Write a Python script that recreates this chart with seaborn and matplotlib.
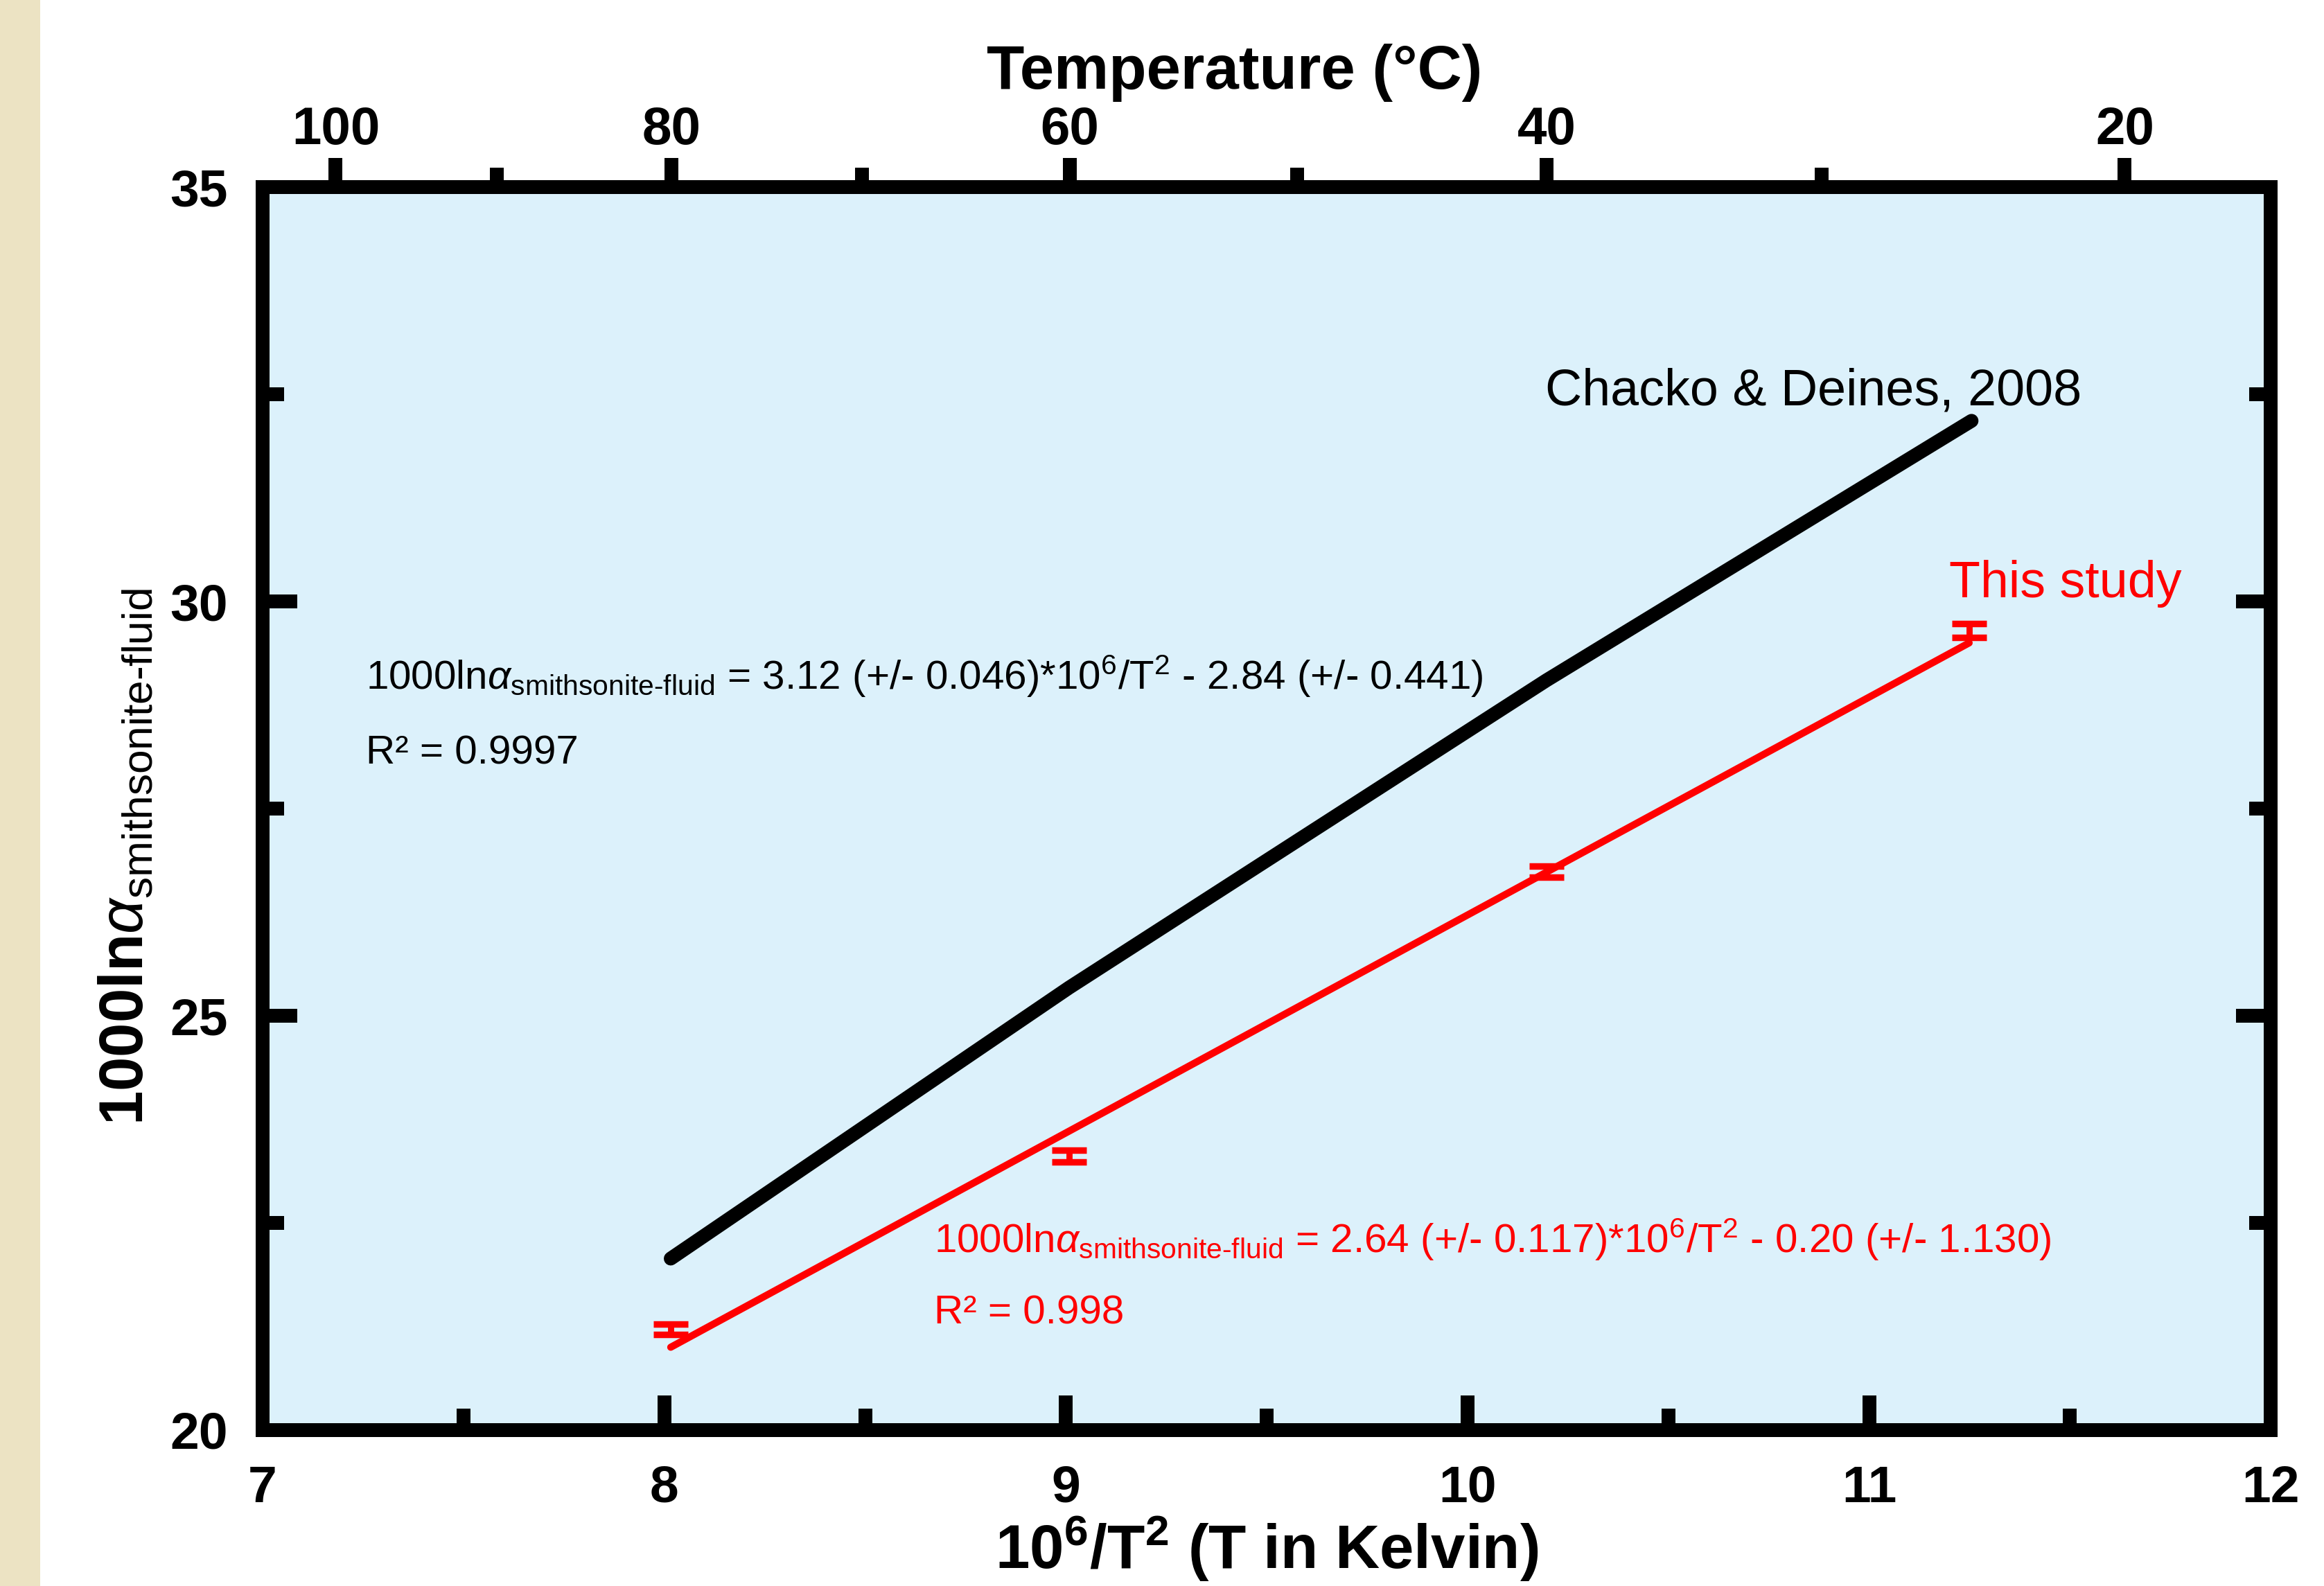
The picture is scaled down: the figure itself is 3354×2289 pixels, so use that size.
import numpy as np
import matplotlib
matplotlib.use("Agg")
import matplotlib.pyplot as plt
import seaborn as sns
from matplotlib.ticker import FixedLocator
from matplotlib.patches import Rectangle

# ---------------- data ----------------
x_study = [8.016, 9.008, 10.197, 11.249]
y_study = [21.22, 23.31, 26.74, 29.65]
err_study = [0.063, 0.070, 0.070, 0.084]

x_fit = [8.016, 11.249]
y_fit = [21.00, 29.50]

x_chacko = [8.016, 9.008, 10.197, 11.255]
y_chacko = [22.07, 25.34, 29.05, 32.18]

x_major = [7, 8, 9, 10, 11, 12]
x_minor = [7.5, 8.5, 9.5, 10.5, 11.5]
y_major = [20, 25, 30, 35]
y_minor = [22.5, 27.5, 32.5]
temp_major = [100, 80, 60, 40, 20]
temp_minor = [90, 70, 50, 30]

label_chacko = "Chacko & Deines, 2008"
label_study = "This study"
eq_chacko = r"1000ln$\alpha_{\text{smithsonite-fluid}}$ = 3.12 (+/- 0.046)*10$^{6}$/T$^{2}$ - 2.84 (+/- 0.441)"
r2_chacko = "R² = 0.9997"
eq_study = r"1000ln$\alpha_{\text{smithsonite-fluid}}$ = 2.64 (+/- 0.117)*10$^{6}$/T$^{2}$ - 0.20 (+/- 1.130)"
r2_study = "R² = 0.998"

# ---------------- style ----------------
sns.set_theme(style="ticks")
plt.rcParams["font.family"] = ["Liberation Sans", "DejaVu Sans"]
plt.rcParams["mathtext.fontset"] = "custom"
plt.rcParams["mathtext.rm"] = "Liberation Sans"
plt.rcParams["mathtext.it"] = "Liberation Sans:italic"
plt.rcParams["mathtext.bf"] = "Liberation Sans:bold"
plt.rcParams["text.color"] = "black"
plt.rcParams["axes.labelcolor"] = "black"
plt.rcParams["xtick.color"] = "black"
plt.rcParams["ytick.color"] = "black"
plt.rcParams["xtick.labelcolor"] = "black"
plt.rcParams["ytick.labelcolor"] = "black"

BG = "#DCF1FB"
BEIGE = "#ECE3C3"
LW = 7.2

fig = plt.figure(figsize=(16.775, 11.445), dpi=200)
fig.patch.set_facecolor("white")
fig.patches.append(Rectangle((0, 0), 58 / 3355, 1, transform=fig.transFigure,
                             facecolor=BEIGE, edgecolor="none", zorder=0))
ax = fig.add_axes([0.1130, 0.0983, 0.8638, 0.7837])
ax.set_facecolor(BG)

# lines
sns.lineplot(x=x_chacko, y=y_chacko, ax=ax, color="black", linewidth=7.2,
             solid_capstyle="round", solid_joinstyle="round", zorder=3)
sns.lineplot(x=x_fit, y=y_fit, ax=ax, color="#FF0000", linewidth=3.7,
             solid_capstyle="round", zorder=4)
eb = ax.errorbar(x_study, y_study, yerr=err_study, fmt="none", ecolor="#FF0000",
                 elinewidth=3.2, capsize=9, capthick=3.4, zorder=5)

ax.set_xlim(7, 12)
ax.set_ylim(20, 35)

# ticks
ax.xaxis.set_major_locator(FixedLocator(x_major))
ax.xaxis.set_minor_locator(FixedLocator(x_minor))
ax.yaxis.set_major_locator(FixedLocator(y_major))
ax.yaxis.set_minor_locator(FixedLocator(y_minor))
ax.set_xticklabels([str(v) for v in x_major])
ax.set_yticklabels([str(v) for v in y_major])
ax.tick_params(axis="both", which="major", direction="in", length=18, width=LW,
               labelsize=27, pad=18, bottom=True, left=True, right=True, top=False,
               color="black", labelcolor="black")
ax.tick_params(axis="both", which="minor", direction="in", length=11, width=LW,
               bottom=True, left=True, right=True, top=False, color="black")
for lab in ax.get_xticklabels() + ax.get_yticklabels():
    lab.set_fontweight("bold")

for s in ax.spines.values():
    s.set_linewidth(LW)
    s.set_color("black")
    s.set_visible(True)
    s.set_zorder(10)

# top temperature axis
def x2t(x):
    x = np.asarray(x, dtype=float)
    with np.errstate(divide="ignore", invalid="ignore"):
        return np.sqrt(1e6 / np.where(x > 0, x, np.nan)) - 273.15

def t2x(t):
    t = np.asarray(t, dtype=float)
    with np.errstate(divide="ignore", invalid="ignore"):
        return 1e6 / (t + 273.15) ** 2

secax = ax.secondary_xaxis("top", functions=(x2t, t2x))
secax.xaxis.set_major_locator(FixedLocator(temp_major))
secax.xaxis.set_minor_locator(FixedLocator(temp_minor))
secax.set_xticklabels([str(v) for v in temp_major])
secax.tick_params(axis="x", which="major", direction="out", length=15, width=LW,
                  labelsize=27.5, pad=1.5, color="black", labelcolor="black")
secax.tick_params(axis="x", which="minor", direction="out", length=10, width=LW,
                  color="black")
for lab in secax.get_xticklabels():
    lab.set_fontweight("bold")
secax.spines["top"].set_linewidth(LW)
secax.spines["top"].set_color("black")

fig.text(1782 / 3355, 1 - 128 / 2289, "Temperature (°C)", fontsize=32,
         fontweight="bold", ha="center", va="baseline", color="black")

# axis labels
ax.set_xlabel(r"10$^{\mathbf{6}}$/T$^{\mathbf{2}}$ (T in Kelvin)", fontsize=32,
              fontweight="bold", labelpad=1, color="black")
ax.set_ylabel(r"1000ln$\alpha_{\text{smithsonite-fluid}}$", fontsize=32,
              fontweight="bold", color="black")
ax.yaxis.set_label_coords(-0.053, 0.4615)

# annotations
ax.text(10.193, 32.37, label_chacko, fontsize=26.5, color="black", ha="left", va="baseline")
ax.text(11.20, 30.05, label_study, fontsize=26.5, color="#FF0000", ha="left", va="baseline")
ax.text(7.257, 28.94, eq_chacko, fontsize=21.0, color="black", ha="left", va="baseline")
ax.text(7.257, 28.04, r2_chacko, fontsize=21.0, color="black", ha="left", va="baseline")
ax.text(8.672, 22.14, eq_study, fontsize=21.0, color="#FF0000", ha="left", va="baseline")
ax.text(8.672, 21.28, r2_study, fontsize=21.0, color="#FF0000", ha="left", va="baseline")

fig.savefig("out.png", dpi=200, facecolor="white")
